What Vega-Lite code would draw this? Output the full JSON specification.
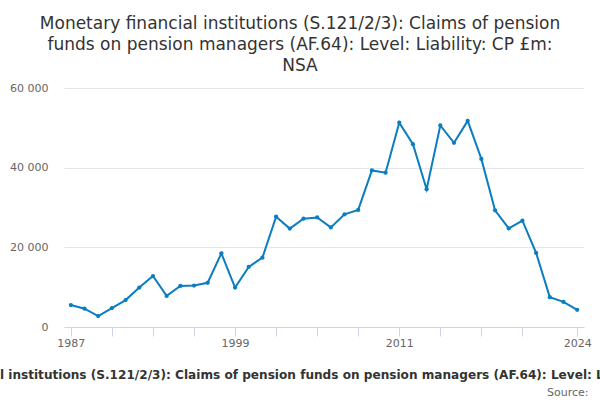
{
  "$schema": "https://vega.github.io/schema/vega-lite/v6.json",
  "autosize": "none",
  "width": 520,
  "height": 239,
  "padding": {"left": 64, "top": 88, "right": 16, "bottom": 73},
  "title": {
    "text": [
      "Monetary financial institutions (S.121/2/3): Claims of pension",
      "funds on pension managers (AF.64): Level: Liability: CP £m:",
      "NSA"
    ],
    "font": "DejaVu Sans",
    "fontSize": 17,
    "fontWeight": "normal",
    "color": "#333333",
    "lineHeight": 21,
    "anchor": "middle",
    "dx": -24,
    "offset": 7
  },
  "data": {
    "values": [
      {"year": "1987", "value": 5500},
      {"year": "1988", "value": 4600},
      {"year": "1989", "value": 2750},
      {"year": "1990", "value": 4750},
      {"year": "1991", "value": 6750},
      {"year": "1992", "value": 9900},
      {"year": "1993", "value": 12800},
      {"year": "1994", "value": 7800},
      {"year": "1995", "value": 10300},
      {"year": "1996", "value": 10400},
      {"year": "1997", "value": 11100},
      {"year": "1998", "value": 18500},
      {"year": "1999", "value": 9900},
      {"year": "2000", "value": 15100},
      {"year": "2001", "value": 17400},
      {"year": "2002", "value": 27700},
      {"year": "2003", "value": 24700},
      {"year": "2004", "value": 27200},
      {"year": "2005", "value": 27500},
      {"year": "2006", "value": 25000},
      {"year": "2007", "value": 28300},
      {"year": "2008", "value": 29400},
      {"year": "2009", "value": 39300},
      {"year": "2010", "value": 38750},
      {"year": "2011", "value": 51300},
      {"year": "2012", "value": 45900},
      {"year": "2013", "value": 34600},
      {"year": "2014", "value": 50600},
      {"year": "2015", "value": 46250},
      {"year": "2016", "value": 51750},
      {"year": "2017", "value": 42200},
      {"year": "2018", "value": 29300},
      {"year": "2019", "value": 24750},
      {"year": "2020", "value": 26700},
      {"year": "2021", "value": 18600},
      {"year": "2022", "value": 7500},
      {"year": "2023", "value": 6300},
      {"year": "2024", "value": 4300}
    ]
  },
  "encoding": {
    "y": {
      "field": "value",
      "type": "quantitative",
      "scale": {"domain": [0, 60000], "nice": false},
      "axis": {
        "title": null,
        "values": [0, 20000, 40000, 60000],
        "labelExpr": "replace(format(datum.value, ','), ',', ' ')",
        "domain": false,
        "ticks": false,
        "labelPadding": 16,
        "labelFont": "DejaVu Sans",
        "labelFontSize": 11,
        "labelColor": "#666666",
        "gridColor": "#e6e6e6"
      }
    }
  },
  "layer": [
    {
      "mark": {"type": "line", "color": "#0b7dc0", "strokeWidth": 2},
      "encoding": {
        "x": {
          "field": "year",
          "type": "ordinal",
          "scale": {"type": "point", "padding": 0.5},
          "axis": {
            "orient": "bottom",
            "values": ["1987", "1990", "1993", "1996", "1999", "2002", "2005", "2008", "2011", "2014", "2017", "2020", "2024"],
            "labelExpr": "indexof(['1987','1999','2011','2024'], datum.value) >= 0 ? datum.value : ''",
            "labelAngle": 0,
            "labelFont": "DejaVu Sans",
            "labelFontSize": 11,
            "labelColor": "#666666",
            "labelPadding": 1,
            "domainColor": "#ccd6eb",
            "tickColor": "#ccd6eb",
            "tickSize": 9,
            "grid": false,
            "title": "Monetary financial institutions (S.121/2/3): Claims of pension funds on pension managers (AF.64): Level: Liability: CP £m: NSA",
            "titleX": 244,
            "titleAlign": "center",
            "titleFont": "DejaVu Sans",
            "titleFontSize": 12.1,
            "titleFontWeight": "bold",
            "titleColor": "#333333",
            "titleLimit": 3000,
            "titlePadding": 20
          }
        }
      }
    },
    {
      "mark": {"type": "circle", "color": "#0b7dc0", "size": 18, "opacity": 1},
      "encoding": {
        "x": {
          "field": "year",
          "type": "ordinal",
          "scale": {"type": "point", "padding": 0.5},
          "axis": {
            "orient": "bottom",
            "labels": false,
            "ticks": false,
            "domain": false,
            "grid": false,
            "title": "Source:",
            "titleX": 524,
            "titleY": 68,
            "titleAlign": "right",
            "titleBaseline": "alphabetic",
            "titleFont": "DejaVu Sans",
            "titleFontSize": 11,
            "titleFontWeight": "normal",
            "titleColor": "#666666",
            "titlePadding": 0,
            "offset": 0
          }
        }
      }
    }
  ],
  "resolve": {"axis": {"x": "independent"}},
  "config": {
    "view": {"stroke": null},
    "font": "DejaVu Sans"
  }
}
